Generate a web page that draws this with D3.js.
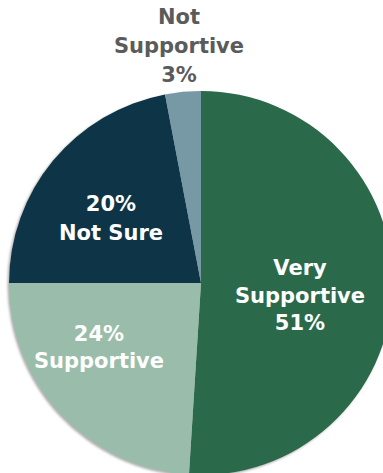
<!DOCTYPE html>
<html>
<head>
<meta charset="utf-8">
<script src="https://cdn.jsdelivr.net/npm/d3@7"></script>
<style>
  html, body { margin: 0; padding: 0; background: #ffffff; }
  svg { display: block; }
  text { font-family: "DejaVu Sans", sans-serif; font-weight: bold; }
</style>
</head>
<body>
<svg id="chart" width="383" height="473"></svg>
<script>
const categories = ["Very Supportive", "Supportive", "Not Sure", "Not Supportive"];
const shares = [51, 24, 22, 3];
const printedPercents = ["51%", "24%", "20%", "3%"];
const colors = ["#2a6a4b", "#9abcaa", "#083547", "#7699a5"];

const svg = d3.select("#chart");
const width = 383, height = 473;
const cx = 201, cy = 283, radius = 192;

const defs = svg.append("defs");
const f = defs.append("filter").attr("id", "shadow")
  .attr("x", "-10%").attr("y", "-10%").attr("width", "120%").attr("height", "120%");
f.append("feDropShadow").attr("dx", -1.5).attr("dy", 1.5)
  .attr("stdDeviation", 1.2).attr("flood-color", "#777").attr("flood-opacity", 0.6);

const pie = d3.pie().sort(null).value(d => d.v);
const data = categories.map((c, i) => ({ c, v: shares[i], color: colors[i], label: printedPercents[i] }));
const arcs = pie(data);
const arc = d3.arc().innerRadius(0).outerRadius(radius);

const g = svg.append("g").attr("transform", `translate(${cx},${cy})`);
g.append("g").attr("filter", "url(#shadow)")
  .selectAll("path").data(arcs).join("path")
  .attr("d", arc)
  .attr("fill", d => d.data.color);

// Labels: lines, centre x and first baseline
const labelSpecs = [
  { lines: ["Very", "Supportive", printedPercents[0]], x: 300, y: 275, step: 27.5, fill: "#ffffff" },
  { lines: [printedPercents[1], "Supportive"], x: 99, y: 341, step: 27, fill: "#ffffff" },
  { lines: [printedPercents[2], "Not Sure"], x: 111, y: 211, step: 29, fill: "#ffffff" },
  { lines: ["Not", "Supportive", printedPercents[3]], x: 179, y: 24, step: 29, fill: "#5b5b5b" }
];

labelSpecs.forEach(s => {
  const t = svg.append("text")
    .attr("text-anchor", "middle")
    .attr("font-size", 21)
    .attr("fill", s.fill);
  s.lines.forEach((ln, i) => {
    t.append("tspan").attr("x", s.x).attr("y", s.y + i * s.step).text(ln);
  });
});
</script>
</body>
</html>
